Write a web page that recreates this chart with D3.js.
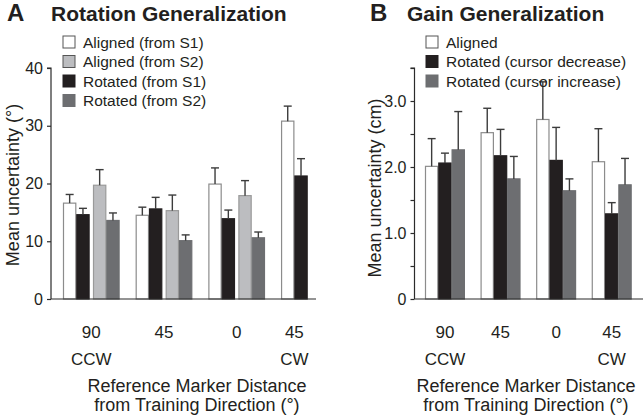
<!DOCTYPE html>
<html><head><meta charset="utf-8">
<script src="https://cdn.jsdelivr.net/npm/d3@7/dist/d3.min.js"></script>
<style>
html,body{margin:0;padding:0;background:#fff;}
svg{display:block;font-family:"Liberation Sans",Arial,Helvetica,sans-serif;}
</style></head>
<body>
<svg id="chart" width="643" height="420"></svg>
<script>
// ---------- data ----------
const groups = ["90 CCW", "45 CCW", "0", "45 CW"];
const tickTop = ["90", "45", "0", "45"];
const tickBottom = ["CCW", "", "", "CW"];

// Panel A: Rotation generalization (bar order within group)
const rotSeries = ["Aligned (from S1)", "Rotated (from S1)", "Aligned (from S2)", "Rotated (from S2)"];
const rotLegendOrder = ["Aligned (from S1)", "Aligned (from S2)", "Rotated (from S1)", "Rotated (from S2)"];
const rotAlignedS1 = [16.6, 14.5, 19.9, 30.8];
const rotAlignedS1Err = [1.5, 1.4, 2.8, 2.6];
const rotRotatedS1 = [14.6, 15.6, 13.9, 21.3];
const rotRotatedS1Err = [1.1, 2.0, 1.5, 3.0];
const rotAlignedS2 = [19.7, 15.3, 17.9, null];
const rotAlignedS2Err = [2.7, 2.7, 2.6, null];
const rotRotatedS2 = [13.6, 10.1, 10.6, null];
const rotRotatedS2Err = [1.3, 1.0, 1.0, null];
const rotYTicks = [0, 10, 20, 30, 40];

// Panel B: Gain generalization
const gainSeries = ["Aligned", "Rotated (cursor decrease)", "Rotated (cursor increase)"];
const gainAligned = [2.01, 2.52, 2.72, 2.08];
const gainAlignedErr = [0.42, 0.37, 0.57, 0.50];
const gainDecrease = [2.06, 2.17, 2.10, 1.29];
const gainDecreaseErr = [0.15, 0.40, 0.50, 0.17];
const gainIncrease = [2.26, 1.82, 1.64, 1.73];
const gainIncreaseErr = [0.58, 0.34, 0.18, 0.40];
const gainYTicks = [0, 0.5, 1.0, 1.5, 2.0, 2.5, 3.0, 3.5];
const gainYLabels = ["0", "", "1.0", "", "2.0", "", "3.0", ""];

// ---------- styles ----------
const fills = {
  "Aligned (from S1)": "#ffffff", "Aligned (from S2)": "#bcbdc0",
  "Rotated (from S1)": "#231f20", "Rotated (from S2)": "#6d6e71",
  "Aligned": "#ffffff", "Rotated (cursor decrease)": "#231f20", "Rotated (cursor increase)": "#6d6e71"
};
const strokes = {
  "Aligned (from S1)": "#8c8c8c", "Aligned (from S2)": "#9a9a9a",
  "Rotated (from S1)": "#231f20", "Rotated (from S2)": "#6d6e71",
  "Aligned": "#8c8c8c", "Rotated (cursor decrease)": "#231f20", "Rotated (cursor increase)": "#6d6e71"
};
const axisColor = "#2b2b2b", errColor = "#3c3c3c", textColor = "#231f20";

const svg = d3.select("#chart");

function buildRows(seriesNames, vals, errs) {
  const rows = [];
  seriesNames.forEach((s, si) => {
    groups.forEach((g, gi) => {
      if (vals[si][gi] != null) rows.push({series: s, si, group: g, gi, v: vals[si][gi], e: errs[si][gi]});
    });
  });
  return rows;
}

function drawPanel(cfg) {
  const g = svg.append("g");
  const y = d3.scaleLinear().domain(cfg.yDomain).range([299, 68]);
  const xg = d3.scaleBand().domain(groups).range(cfg.groupRange).paddingInner(cfg.groupPad).paddingOuter(0);
  const xi = d3.scaleBand().domain(cfg.series).range([0, cfg.barW * cfg.series.length]).padding(0);
  const off = (si) => xi(cfg.series[si]) + (cfg.pairGap && si >= 2 ? cfg.pairGap : 0);
  const rows = buildRows(cfg.series, cfg.vals, cfg.errs);

  // bars
  g.selectAll("rect.bar").data(rows).join("rect")
    .attr("x", d => xg(d.group) + off(d.si) + 0.5)
    .attr("y", d => y(d.v))
    .attr("width", xi.bandwidth() - 1)
    .attr("height", d => y(0) - y(d.v))
    .attr("fill", d => fills[d.series])
    .attr("stroke", d => strokes[d.series])
    .attr("stroke-width", 1.2);

  // error bars
  const cx = d => xg(d.group) + off(d.si) + xi.bandwidth() / 2;
  g.selectAll("line.err").data(rows).join("line")
    .attr("x1", cx).attr("x2", cx)
    .attr("y1", d => y(d.v)).attr("y2", d => y(d.v + d.e))
    .attr("stroke", errColor).attr("stroke-width", 1.4);
  g.selectAll("line.cap").data(rows).join("line")
    .attr("x1", d => cx(d) - 4).attr("x2", d => cx(d) + 4)
    .attr("y1", d => y(d.v + d.e)).attr("y2", d => y(d.v + d.e))
    .attr("stroke", errColor).attr("stroke-width", 1.4);

  // y axis
  const ax = d3.axisLeft(y).tickValues(cfg.yTicks).tickSize(4).tickPadding(4)
    .tickFormat((d, i) => cfg.yLabels ? cfg.yLabels[i] : d3.format("d")(d));
  const ag = g.append("g").attr("transform", `translate(${cfg.axisX},0)`).call(ax);
  ag.select(".domain").attr("d", `M-4,${y(cfg.yDomain[1])}H0V${y(0)}`).attr("stroke", axisColor).attr("stroke-width", 1.2);
  ag.selectAll(".tick line").attr("stroke", axisColor).attr("stroke-width", 1.2);
  ag.selectAll(".tick text").attr("fill", textColor).style("font-size", "16px").style("font-family", "Liberation Sans, Arial, sans-serif");

  // x axis baseline
  g.append("line").attr("x1", cfg.axisX).attr("x2", cfg.xEnd).attr("y1", y(0)).attr("y2", y(0))
    .attr("stroke", axisColor).attr("stroke-width", 1.2);

  // x tick labels centred on drawn bars
  groups.forEach((grp, gi) => {
    const present = rows.filter(r => r.gi === gi);
    const xs = present.map(cx);
    const c = (d3.min(xs) + d3.max(xs)) / 2;
    g.append("text").attr("x", c).attr("y", 338).attr("text-anchor", "middle")
      .attr("fill", textColor).style("font-size", "17px").text(tickTop[gi]);
    if (tickBottom[gi]) g.append("text").attr("x", c).attr("y", 365).attr("text-anchor", "middle")
      .attr("fill", textColor).style("font-size", "17px").text(tickBottom[gi]);
  });

  // x axis title
  g.append("text").attr("x", cfg.xTitleX).attr("y", 392).attr("text-anchor", "middle")
    .attr("fill", textColor).style("font-size", "18px").text("Reference Marker Distance");
  g.append("text").attr("x", cfg.xTitleX).attr("y", 411).attr("text-anchor", "middle")
    .attr("fill", textColor).style("font-size", "18px").text("from Training Direction (°)");

  // y axis title
  g.append("text").attr("transform", `translate(${cfg.yTitleX},${cfg.yTitleY}) rotate(-90)`)
    .attr("text-anchor", "middle").attr("fill", textColor).style("font-size", "18px").text(cfg.yTitle);

  // panel letter + title
  g.append("text").attr("x", cfg.letterX).attr("y", 21).attr("fill", textColor)
    .style("font-size", "24px").style("font-weight", "bold").text(cfg.letter);
  g.append("text").attr("x", cfg.titleX).attr("y", 21).attr("fill", textColor)
    .style("font-size", "21px").style("font-weight", "bold").text(cfg.title);

  // legend
  const lg = g.append("g");
  cfg.legend.forEach((s, i) => {
    const yy = cfg.legendY + i * 19.5;
    lg.append("rect").attr("x", cfg.legendX).attr("y", yy - 6).attr("width", 12).attr("height", 12)
      .attr("fill", fills[s]).attr("stroke", s.startsWith("Aligned") ? "#555" : strokes[s]).attr("stroke-width", 1);
    lg.append("text").attr("x", cfg.legendX + 20).attr("y", yy + 5.5).attr("fill", textColor)
      .style("font-size", "15.5px").text(s);
  });
}

drawPanel({
  series: rotSeries,
  vals: [rotAlignedS1, rotRotatedS1, rotAlignedS2, rotRotatedS2],
  errs: [rotAlignedS1Err, rotRotatedS1Err, rotAlignedS2Err, rotRotatedS2Err],
  yDomain: [0, 40], yTicks: rotYTicks, yLabels: null,
  groupRange: [63, 337.7], groupPad: 0.221, barW: 13.3, pairGap: 3.4,
  axisX: 51, xEnd: 316, xTitleX: 197,
  yTitle: "Mean uncertainty (°)", yTitleX: 19, yTitleY: 185,
  letter: "A", letterX: 7, title: "Rotation Generalization", titleX: 51,
  legend: rotLegendOrder, legendX: 63, legendY: 42
});

drawPanel({
  series: gainSeries,
  vals: [gainAligned, gainDecrease, gainIncrease],
  errs: [gainAlignedErr, gainDecreaseErr, gainIncreaseErr],
  yDomain: [0, 3.5], yTicks: gainYTicks, yLabels: gainYLabels,
  groupRange: [425, 631.8], groupPad: 0.28, barW: 13.3, pairGap: 0,
  axisX: 414.5, xEnd: 643, xTitleX: 526,
  yTitle: "Mean uncertainty (cm)", yTitleX: 381, yTitleY: 188,
  letter: "B", letterX: 370, title: "Gain Generalization", titleX: 407,
  legend: gainSeries, legendX: 426, legendY: 42
});
</script>
</body></html>
